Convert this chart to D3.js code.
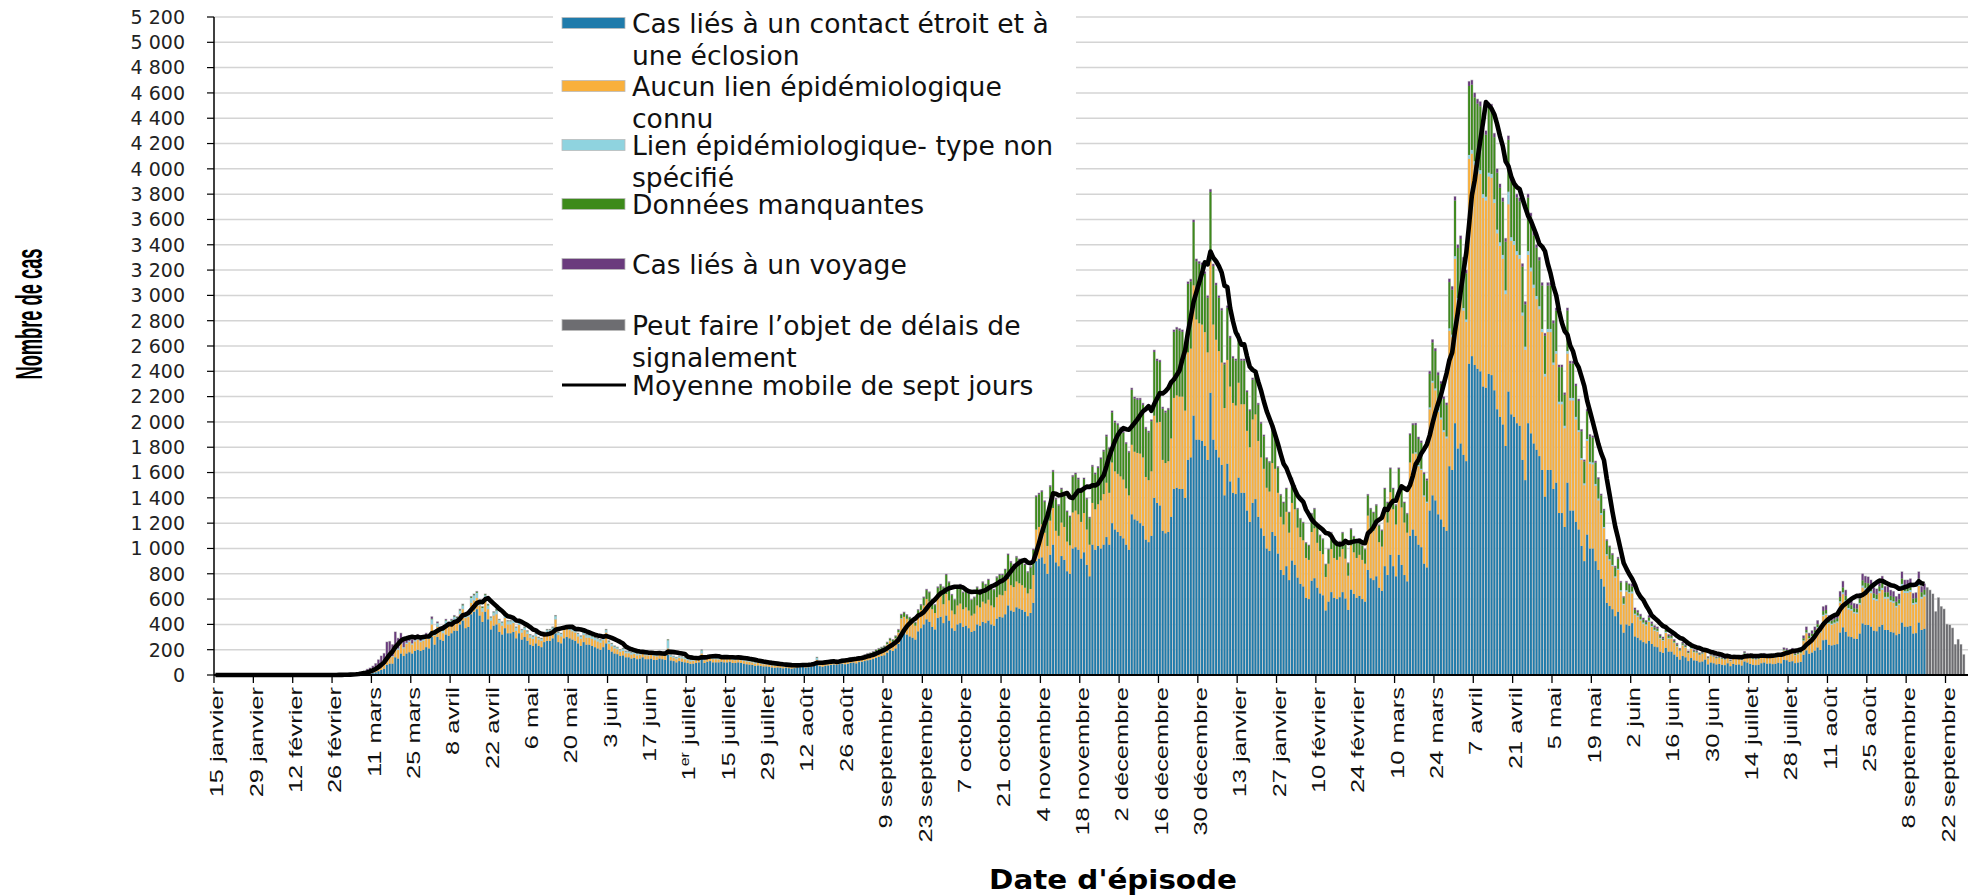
<!DOCTYPE html>
<html>
<head>
<meta charset="utf-8">
<script src="https://cdn.jsdelivr.net/npm/d3@7"></script>
<style>
body { margin: 0; background: #fff; }
svg { display: block; }
</style>
</head>
<body>
<div id="chart"></div>
<script>
// axis range (one category per day) and dates of the data arrays
var firstDay = "2020-01-15";
var lastDay = "2021-09-29";
var dataStart = "2020-02-26";
var delayStart = "2021-09-15";
var tickEvery = 14;
var yMax = 5200, yStep = 200;

var tickLabels = ["15 janvier","29 janvier","12 février","26 février","11 mars","25 mars","8 avril","22 avril","6 mai","20 mai",
  "3 juin","17 juin","1er juillet","15 juillet","29 juillet","12 août","26 août","9 septembre","23 septembre","7 octobre",
  "21 octobre","4 novembre","18 novembre","2 décembre","16 décembre","30 décembre","13 janvier","27 janvier","10 février","24 février",
  "10 mars","24 mars","7 avril","21 avril","5 mai","19 mai","2 juin","16 juin","30 juin","14 juillet",
  "28 juillet","11 août","25 août","8 septembre","22 septembre"];

var seriesNames = ["Cas liés à un contact étroit et à une éclosion", "Aucun lien épidémiologique connu",
  "Lien épidémiologique- type non spécifié", "Données manquantes", "Cas liés à un voyage",
  "Peut faire l’objet de délais de signalement"];
var lineName = "Moyenne mobile de sept jours";

// daily values from 2020-02-26, one week per line
var contact = [
0,1,0,1,1,1,1,
1,2,3,5,5,9,12,
15,22,30,40,50,80,90,
90,140,130,170,150,170,180,
170,190,200,190,200,220,210,
300,240,300,280,270,320,310,
330,350,350,400,430,370,380,
480,500,520,470,420,500,440,
360,390,400,340,320,370,330,
330,340,290,330,280,300,270,
240,230,250,230,220,260,270,
270,290,330,260,250,290,300,
290,280,270,250,230,260,240,
240,230,220,210,200,220,250,
200,185,170,165,150,155,140,
140,130,135,125,130,140,125,
125,130,120,120,130,125,120,
160,115,110,100,110,105,100,
95,88,90,95,100,130,95,
105,110,100,100,100,105,100,
100,105,95,95,100,95,90,
85,82,80,72,76,72,68,
68,65,60,57,60,57,53,
58,54,50,54,58,62,65,
58,62,65,72,95,70,65,
72,76,80,83,80,86,90,
85,88,95,98,92,102,105,
110,116,119,126,136,143,150,
156,177,197,190,210,245,325,
330,320,305,295,280,345,370,
400,440,420,380,360,450,460,
410,470,430,370,350,400,410,
380,390,370,340,350,400,390,
420,410,430,400,390,445,460,
455,480,550,510,500,535,525,
515,500,465,490,570,900,920,
930,880,800,950,1030,890,860,
940,910,820,800,1000,1010,990,
920,970,870,780,1030,990,1020,
1000,1030,1090,1030,1200,1150,1130,
1100,1080,1030,990,1270,1230,1220,
1200,1180,1070,1050,1100,1400,1360,
1340,1140,1120,1130,1250,1470,1480,
1470,1470,1400,1700,1720,2050,1860,
1860,1850,1810,1700,2230,1860,1780,
1720,1660,1420,1670,1530,1440,1430,
1560,1440,1440,1300,1210,1360,1390,
1250,1160,1100,1000,980,1130,1100,
960,830,790,860,750,905,870,
770,720,700,610,600,745,765,
690,645,630,510,580,655,610,
600,615,655,605,515,675,640,
610,625,600,580,830,765,750,
780,690,665,860,790,950,860,
780,950,870,790,740,1100,1150,
1100,1030,1010,880,850,1300,1420,
1380,1270,1230,1170,1140,1650,1620,
1990,1790,1830,1740,1690,2460,2520,
2450,2420,2400,2280,2270,2380,2370,
2250,2100,2040,1980,1810,2240,2060,
2040,1990,1970,1700,1540,1990,1910,
1830,1780,1730,1620,1410,1620,1620,
1470,1520,1280,1280,1170,1520,1300,
1300,1210,1150,1020,900,1110,1000,
1000,900,830,760,700,570,545,
520,465,500,400,335,400,390,
410,305,295,275,260,250,270,
245,225,220,185,175,215,185,
185,162,145,122,150,140,110,
134,116,113,101,107,122,84,
99,93,84,87,81,78,93,
70,87,81,84,75,107,99,
87,81,78,81,93,99,90,
92,86,89,97,92,120,117,
104,109,94,99,104,160,195,
168,178,193,218,198,275,280,
239,234,239,244,336,377,341,
305,300,288,285,328,408,397,
395,382,351,346,382,397,356,
356,341,336,315,326,415,382,
382,387,328,331,415,356,366];

var aucunLien = [
0,0,0,0,0,1,1,
1,2,3,4,5,8,11,
15,18,25,30,35,60,65,
55,80,70,80,60,75,80,
70,75,80,70,70,80,75,
100,70,80,70,60,80,80,
70,80,70,80,90,80,80,
90,90,90,80,80,90,80,
70,80,80,70,70,80,70,
70,70,60,65,55,55,55,
55,55,55,50,50,55,65,
65,65,110,55,55,65,65,
65,65,65,55,55,55,55,
55,55,55,55,55,55,85,
45,42,40,38,35,35,32,
32,32,32,30,30,32,30,
30,30,30,27,32,30,30,
50,28,26,25,26,26,25,
22,20,22,22,25,40,22,
25,26,25,25,23,25,25,
25,25,25,22,25,22,22,
22,21,19,18,19,18,17,
17,16,16,15,16,15,14,
15,14,13,14,15,16,17,
15,16,17,19,25,18,17,
20,21,22,23,22,25,26,
27,28,30,32,29,33,35,
38,41,43,46,50,52,55,
58,65,73,70,78,90,120,
130,125,120,115,110,135,145,
150,160,160,140,130,160,170,
150,170,160,140,130,150,155,
140,145,140,130,135,150,145,
160,155,165,150,145,170,175,
175,185,210,200,195,205,200,
195,190,180,190,220,250,250,
260,245,220,270,290,250,240,
265,260,235,225,285,290,280,
290,310,280,250,330,320,330,
380,400,430,410,480,460,460,
470,465,445,430,550,535,535,
550,540,495,490,510,650,635,
660,560,555,560,620,720,730,
730,730,690,850,860,1030,950,
920,920,900,850,1040,910,870,
840,810,690,820,750,710,700,
750,700,700,630,590,660,670,
600,560,530,480,470,545,530,
480,420,400,430,375,455,440,
395,370,365,315,310,385,395,
355,335,325,265,300,340,315,
310,320,340,315,270,350,330,
315,325,310,300,430,400,390,
410,360,350,450,415,495,450,
410,495,455,415,385,580,600,
650,620,610,530,510,800,890,
870,810,790,750,730,1070,1050,
1300,1170,1200,1140,1100,1620,1600,
1580,1560,1560,1490,1480,1560,1560,
1480,1390,1350,1310,1200,1480,1370,
1360,1330,1320,1140,1030,1330,1280,
1230,1190,1160,1090,950,1090,1090,
980,1020,860,860,780,1020,870,
870,810,770,680,600,740,670,
665,595,550,505,460,375,360,
340,305,330,260,220,260,255,
235,170,165,155,145,140,150,
135,125,122,102,96,118,102,
103,90,80,68,84,77,61,
74,64,62,56,60,67,46,
54,51,46,48,45,43,51,
38,48,45,46,42,59,54,
48,45,43,45,51,54,50,
52,49,50,55,52,72,70,
68,72,61,65,68,108,135,
117,124,135,152,138,190,195,
167,163,167,170,234,262,237,
213,209,200,199,229,283,276,
274,265,244,240,265,276,248,
248,237,234,220,227,289,266,
266,269,228,230,289,248,255];

var nonSpecifie = [
0,0,0,0,0,0,0,
0,0,0,0,0,0,0,
0,0,0,0,0,0,0,
5,10,10,10,10,10,10,
10,10,15,10,15,15,13,
40,20,30,20,20,30,20,
30,30,30,30,30,20,30,
40,40,40,30,30,40,30,
25,25,30,25,25,25,25,
25,25,25,20,20,20,20,
20,20,20,15,15,20,20,
20,20,25,20,20,20,20,
20,20,20,20,20,20,20,
20,20,20,20,20,20,20,
20,18,15,14,12,15,14,
14,14,14,12,12,14,12,
12,12,12,10,15,12,12,
65,14,12,12,12,12,12,
10,10,10,10,12,25,10,
12,12,12,12,10,12,12,
12,12,12,10,12,10,10,
10,9,8,7,7,7,7,
7,6,6,5,6,5,5,
4,4,4,4,4,4,5,
4,4,5,5,15,4,5,
4,4,4,4,4,4,4,
3,3,4,4,3,4,4,
3,3,3,3,3,3,3,
2,3,3,3,3,3,4,
0,0,0,0,0,0,0,
0,0,0,0,0,0,0,
0,0,0,0,0,0,0,
0,0,0,0,0,0,0,
0,0,0,0,0,0,0,
0,0,0,0,0,0,0,
0,0,0,0,0,0,0,
0,0,0,0,0,0,0,
0,0,0,0,0,0,0,
0,0,0,0,0,0,0,
0,0,0,0,0,0,0,
0,0,0,0,0,0,0,
0,0,0,0,0,0,0,
0,0,0,0,0,0,0,
0,0,0,0,0,0,0,
0,0,0,0,0,0,0,
0,0,0,0,0,0,0,
0,0,0,0,0,0,0,
0,0,0,0,0,0,0,
0,0,0,0,0,0,0,
0,0,0,0,0,0,0,
0,0,0,0,0,0,0,
0,0,0,0,0,0,0,
0,0,0,0,0,0,0,
0,0,0,0,0,0,0,
0,0,0,0,0,0,0,
10,10,10,10,10,15,15,
15,15,15,15,15,20,20,
20,20,20,20,20,30,30,
30,30,30,30,30,30,30,
30,30,30,30,30,100,30,
30,30,30,25,25,30,30,
25,25,25,25,20,25,25,
20,20,20,20,20,20,20,
20,20,15,15,15,15,15,
15,15,15,15,10,10,10,
10,10,10,10,8,10,10,
15,10,10,10,10,10,10,
8,8,8,7,6,8,7,
7,6,5,4,5,5,4,
5,4,4,4,4,4,3,
3,3,3,3,3,3,3,
3,3,3,3,3,4,3,
3,3,3,3,3,3,3,
3,3,3,3,3,4,4,
4,4,4,4,4,6,7,
6,7,8,9,8,11,11,
9,9,9,10,13,15,13,
12,12,11,11,13,16,16,
16,15,14,14,15,16,14,
14,13,13,12,13,16,15,
15,15,13,13,16,14,14];

var manquantes = [
0,0,0,0,0,0,0,
0,0,0,0,0,0,0,
0,0,0,0,0,0,0,
0,0,0,0,0,0,0,
0,0,0,0,0,0,0,
5,2,2,4,5,4,5,
5,5,6,6,7,7,7,
7,7,7,8,8,8,8,
3,3,8,3,3,3,3,
3,3,3,3,3,3,3,
3,3,3,3,3,3,3,
3,3,3,3,3,3,3,
3,3,3,3,3,3,3,
3,3,3,3,3,3,3,
3,3,3,2,2,3,2,
2,2,2,2,2,2,2,
2,2,2,2,2,2,2,
4,2,1,2,1,1,2,
2,1,2,2,2,3,2,
2,1,2,2,1,2,2,
2,2,2,2,2,2,2,
2,2,2,2,2,2,2,
2,2,2,2,2,2,2,
2,2,2,2,2,2,2,
2,2,2,2,3,2,2,
2,2,2,3,2,3,3,
3,3,3,3,3,3,3,
6,7,7,7,8,9,9,
11,12,14,14,15,18,26,
32,27,27,23,23,32,36,
61,71,71,71,62,80,80,
131,150,141,121,112,141,146,
131,136,131,122,127,141,136,
151,146,156,141,136,155,155,
160,165,189,179,174,189,184,
179,179,165,170,199,258,258,
258,243,219,268,287,248,239,
263,258,234,224,282,287,277,
258,268,239,209,287,277,287,
327,337,366,347,395,386,386,
376,371,352,337,435,420,420,
425,415,381,376,396,503,488,
473,405,400,405,444,522,522,
522,512,493,541,531,499,460,
470,470,461,432,548,461,431,
422,412,345,412,384,354,355,
374,345,345,306,287,315,325,
286,267,257,228,229,262,257,
199,170,170,180,156,189,180,
145,141,136,117,112,141,150,
126,121,117,98,112,126,117,
112,117,126,112,98,126,122,
117,122,112,112,160,145,141,
150,131,126,160,155,184,160,
150,184,164,155,146,217,227,
215,205,205,168,168,265,303,
295,275,267,247,248,365,355,
440,395,395,375,365,545,515,
505,505,505,490,490,515,515,
490,450,430,422,385,410,442,
442,423,423,362,334,423,404,
390,381,362,343,301,343,343,
310,320,273,273,244,320,272,
272,244,230,211,173,220,202,
197,168,154,140,131,107,98,
80,70,80,62,50,62,57,
40,30,25,25,22,18,25,
17,18,16,14,12,16,14,
13,11,10,8,11,9,7,
8,8,8,7,7,8,6,
6,6,6,6,5,5,6,
4,5,5,6,5,7,6,
5,5,5,5,6,6,5,
5,5,5,6,5,7,7,
10,10,9,9,10,16,18,
17,18,19,23,20,29,28,
24,24,24,25,34,38,35,
31,31,29,29,33,41,40,
40,39,36,36,39,40,36,
36,35,34,32,32,42,38,
38,40,34,34,42,36,38];

var voyage = [
1,1,2,2,3,3,4,
6,8,12,16,20,28,32,
40,50,65,80,85,120,110,
90,110,80,70,50,45,40,
30,25,25,20,15,15,12,
15,8,8,6,5,6,5,
5,5,4,4,3,3,3,
3,3,3,2,2,2,2,
2,2,2,2,2,2,2,
2,2,2,2,2,2,2,
2,2,2,2,2,2,2,
2,2,2,2,2,2,2,
2,2,2,2,2,2,2,
2,2,2,2,2,2,2,
2,2,2,1,1,2,2,
2,2,2,1,1,2,1,
1,1,1,1,1,1,1,
1,1,1,1,1,1,1,
1,1,1,1,1,2,1,
1,1,1,1,1,1,1,
1,1,1,1,1,1,1,
1,1,1,1,1,1,1,
1,1,1,1,1,1,1,
1,1,1,1,1,1,1,
1,1,1,2,2,1,1,
2,2,2,2,2,2,2,
2,3,3,3,3,3,3,
3,3,3,3,3,3,3,
3,3,3,3,4,4,5,
5,5,5,4,4,5,6,
6,6,6,6,5,7,7,
6,7,6,6,5,6,6,
6,6,6,5,5,6,6,
6,6,6,6,6,7,7,
7,7,8,8,8,8,8,
8,8,7,7,8,9,9,
9,9,8,9,10,9,8,
9,9,8,8,10,10,10,
9,9,8,8,10,10,10,
10,10,11,10,12,11,11,
11,11,10,10,12,12,12,
12,12,11,11,11,14,14,
14,12,12,12,13,15,15,
15,15,14,16,16,18,17,
17,17,16,15,19,16,16,
15,15,12,15,13,13,12,
13,12,12,11,10,12,12,
11,10,10,9,8,10,10,
8,7,7,7,6,8,7,
7,6,6,5,5,6,7,
6,6,5,4,5,6,5,
5,5,6,5,4,6,5,
5,5,5,5,7,7,6,
7,6,6,7,7,8,7,
7,8,8,7,6,10,10,
15,15,15,12,12,20,22,
20,20,18,18,17,25,25,
30,25,25,25,25,35,35,
35,35,35,30,30,35,35,
30,30,30,28,25,30,28,
28,27,27,23,21,27,26,
25,24,23,22,19,22,22,
20,20,17,17,16,20,18,
18,16,15,14,12,15,13,
13,12,11,10,9,8,7,
10,10,10,8,7,8,8,
20,15,15,15,13,12,15,
15,14,14,12,11,13,12,
12,11,10,8,10,9,8,
9,8,8,7,7,9,6,
8,7,6,6,6,6,7,
5,7,6,6,5,8,8,
7,6,6,6,7,8,7,
8,7,8,9,8,12,12,
14,15,12,13,14,20,25,
22,23,25,28,26,35,36,
31,30,31,31,43,48,44,
39,38,37,36,42,52,51,
50,49,45,44,49,51,46,
46,44,43,41,42,53,49,
49,49,42,42,53,46,47];

// last two weeks, shown as one grey bar (reporting delays)
var delais = [690,670,640,500,610,540,520,
400,395,370,240,280,240,160];

var colors = ["#1f7bab", "#f9b03c", "#8fd3df", "#3d8a1b", "#6a3b7d", "#6d6d71"];
var keys = ["contact", "aucun", "nonspec", "manq", "voyage", "delai"];

var W = 1973, H = 896;
var plotL = 214, plotR = 1968, plotT = 17, plotB = 675;

var parse = d3.utcParse("%Y-%m-%d"), fmt = d3.utcFormat("%Y-%m-%d");
var days = d3.utcDay.range(parse(firstDay), d3.utcDay.offset(parse(lastDay), 1)).map(fmt);

var rows = [];
contact.forEach(function(v, i) {
  rows.push({date: fmt(d3.utcDay.offset(parse(dataStart), i)), contact: v, aucun: aucunLien[i],
    nonspec: nonSpecifie[i], manq: manquantes[i], voyage: voyage[i], delai: 0});
});
delais.forEach(function(v, i) {
  rows.push({date: fmt(d3.utcDay.offset(parse(delayStart), i)), contact: 0, aucun: 0,
    nonspec: 0, manq: 0, voyage: 0, delai: v});
});
rows.forEach(function(r) { r.total = d3.sum(keys, function(k) { return r[k]; }); });

var x = d3.scaleBand().domain(days).range([plotL, plotR]).padding(0);
var y = d3.scaleLinear().domain([0, yMax]).range([plotB, plotT]);
var bw = x.bandwidth();

var svg = d3.select("#chart").append("svg")
  .attr("width", W).attr("height", H)
  .style("font-family", "'DejaVu Sans', sans-serif");
svg.append("rect").attr("width", W).attr("height", H).attr("fill", "#fff");

// gridlines
var yTicks = d3.range(0, yMax + 1, yStep);
svg.append("g").selectAll("line").data(yTicks.filter(function(d) { return d > 0; }))
  .enter().append("line")
  .attr("x1", plotL).attr("x2", plotR)
  .attr("y1", function(d) { return y(d); }).attr("y2", function(d) { return y(d); })
  .attr("stroke", "#d4d4d4").attr("stroke-width", 1.5);

// legend background covers the grid
svg.append("rect").attr("x", 553).attr("y", 4).attr("width", 523).attr("height", 396).attr("fill", "#fff");

// bars
var stacked = d3.stack().keys(keys)(rows);
var gBars = svg.append("g");
gBars.selectAll(".back").data(rows).enter().append("rect")
  .attr("x", function(d) { return x(d.date); })
  .attr("width", bw)
  .attr("y", function(d) { return y(d.total) - 0.6; })
  .attr("height", function(d) { return d.total > 0 ? plotB - y(d.total) + 0.6 : 0; })
  .attr("fill", "#c2c2c2");
stacked.forEach(function(layer, li) {
  gBars.append("g").selectAll("rect").data(layer.filter(function(d) { return d[1] > d[0]; }))
    .enter().append("rect")
    .attr("x", function(d) { return x(d.data.date) + 0.45; })
    .attr("width", bw - 0.9)
    .attr("y", function(d) { return y(d[1]); })
    .attr("height", function(d) { return y(d[0]) - y(d[1]); })
    .attr("fill", colors[li]);
});

// seven-day moving average of the daily totals (trailing), until the delay period
var totalByDate = new Map(rows.map(function(r) { return [r.date, r.total]; }));
var lastMa = days.indexOf(fmt(d3.utcDay.offset(parse(delayStart), -1)));
var ma = [];
for (var i = 0; i <= lastMa; i++) {
  var win = days.slice(Math.max(0, i - 6), i + 1);
  ma.push({date: days[i], v: d3.sum(win, function(dd) { return totalByDate.get(dd) || 0; }) / 7});
}
svg.append("path").datum(ma)
  .attr("fill", "none").attr("stroke", "#000").attr("stroke-width", 4.6)
  .attr("stroke-linejoin", "round")
  .attr("d", d3.line().x(function(d) { return x(d.date) + bw / 2; }).y(function(d) { return y(d.v); }));

// y axis
var gy = svg.append("g");
gy.append("line").attr("x1", plotL).attr("x2", plotL).attr("y1", plotT).attr("y2", plotB)
  .attr("stroke", "#000").attr("stroke-width", 1.5);
gy.selectAll(".t").data(yTicks).enter().append("line")
  .attr("x1", plotL - 7).attr("x2", plotL)
  .attr("y1", function(d) { return y(d); }).attr("y2", function(d) { return y(d); })
  .attr("stroke", "#000").attr("stroke-width", 1.2);
gy.selectAll("text").data(yTicks).enter().append("text")
  .attr("x", 185).attr("y", function(d) { return y(d); }).attr("dy", "0.36em")
  .attr("text-anchor", "end").attr("font-size", 19).attr("fill", "#222")
  .text(function(d) { return d3.format(",")(d).replace(/,/g, " "); });

// x axis
var gx = svg.append("g");
gx.append("line").attr("x1", plotL).attr("x2", plotR).attr("y1", plotB).attr("y2", plotB)
  .attr("stroke", "#000").attr("stroke-width", 1.8);
var tickDates = tickLabels.map(function(l, i) { return fmt(d3.utcDay.offset(parse(firstDay), i * tickEvery)); });
gx.selectAll(".tk").data(tickDates).enter().append("line")
  .attr("x1", function(d) { return x(d); }).attr("x2", function(d) { return x(d); })
  .attr("y1", plotB).attr("y2", plotB + 8)
  .attr("stroke", "#000").attr("stroke-width", 1.3);
tickLabels.forEach(function(label, i) {
  var cx = x(tickDates[i]) + bw * 0.9;
  var t = gx.append("text")
    .attr("transform", "translate(" + cx + ",687) rotate(-90) scale(1.34,1)")
    .attr("text-anchor", "end").attr("dy", "0.35em")
    .attr("font-family", "'Liberation Sans', Arial, sans-serif")
    .attr("font-size", 19).attr("fill", "#111");
  var m = label.match(/^(\d+)er (.*)$/);
  if (m) {
    t.append("tspan").text(m[1]);
    t.append("tspan").attr("baseline-shift", "super").attr("font-size", 12).text("er");
    t.append("tspan").text(" " + m[2]);
  } else {
    t.text(label);
  }
});

// axis titles
svg.append("text")
  .attr("transform", "translate(29,314) rotate(-90)")
  .attr("text-anchor", "middle").attr("dy", "0.36em")
  .attr("font-family", "'Liberation Sans', Arial, sans-serif")
  .attr("font-weight", "bold").attr("font-size", 37)
  .attr("textLength", 131).attr("lengthAdjust", "spacingAndGlyphs")
  .text("Nombre de cas");
svg.append("text")
  .attr("x", 1113).attr("y", 889)
  .attr("text-anchor", "middle")
  .attr("font-weight", "bold").attr("font-size", 26)
  .attr("textLength", 248).attr("lengthAdjust", "spacingAndGlyphs")
  .text("Date d'épisode");

// legend
var legendItems = [
  {lines: ["Cas liés à un contact étroit et à", "une éclosion"], color: colors[0], y: 23},
  {lines: ["Aucun lien épidémiologique", "connu"], color: colors[1], y: 86},
  {lines: ["Lien épidémiologique- type non", "spécifié"], color: colors[2], y: 145},
  {lines: ["Données manquantes"], color: colors[3], y: 204},
  {lines: ["Cas liés à un voyage"], color: colors[4], y: 264},
  {lines: ["Peut faire l’objet de délais de", "signalement"], color: colors[5], y: 325},
  {lines: [lineName], color: null, y: 385}
];
var gl = svg.append("g");
legendItems.forEach(function(it) {
  if (it.color) {
    gl.append("rect").attr("x", 562).attr("y", it.y - 5.5).attr("width", 63).attr("height", 11)
      .attr("fill", it.color).attr("stroke", "#bbb").attr("stroke-width", 0.8);
  } else {
    gl.append("line").attr("x1", 562).attr("x2", 626).attr("y1", it.y).attr("y2", it.y)
      .attr("stroke", "#000").attr("stroke-width", 3.2);
  }
  it.lines.forEach(function(s, j) {
    gl.append("text").attr("x", 632).attr("y", it.y + j * 32.5).attr("dy", "0.36em")
      .attr("font-size", 26.6).attr("fill", "#111").text(s);
  });
});
</script>
</body>
</html>
